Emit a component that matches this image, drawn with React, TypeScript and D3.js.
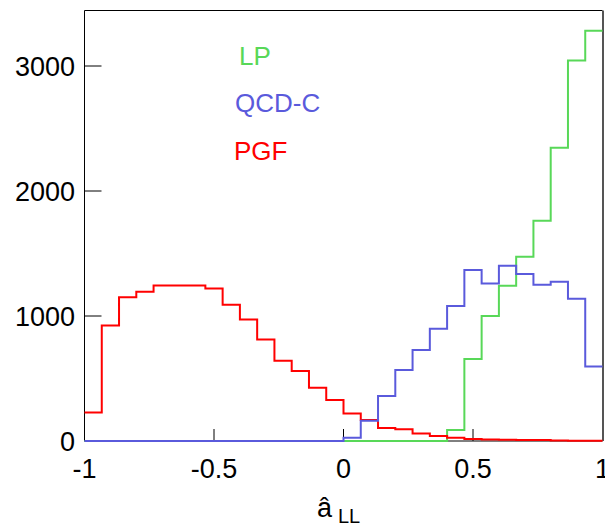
import React from "react";
import * as d3 from "d3";

const binEdges: number[] = d3.range(31).map((i) => -1 + (2 * i) / 30);

const pgfValues: number[] = [
  228, 925, 1150, 1195, 1245, 1245, 1245, 1220, 1090, 973, 813, 643, 560, 427, 328,
  221, 168, 105, 95, 61, 40, 27, 16, 13, 10, 8, 8, 5, 3, 3,
];
const qcdValues: number[] = [
  0, 0, 0, 0, 0, 0, 0, 0, 0, 0, 0, 0, 0, 0, 0,
  27, 163, 360, 568, 728, 899, 1080, 1368, 1261, 1403, 1336, 1251, 1275, 1139, 597,
];
const lpValues: number[] = [
  0, 0, 0, 0, 0, 0, 0, 0, 0, 0, 0, 0, 0, 0, 0,
  0, 0, 0, 0, 0, 0, 88, 656, 1000, 1243, 1475, 1763, 2347, 3045, 3283,
];

const xTicks: number[] = [-1, -0.5, 0, 0.5, 1];
const xTickLabels: string[] = ["-1", "-0.5", "0", "0.5", "1"];
const yTicks: number[] = [0, 1000, 2000, 3000];

const seriesNames: string[] = ["LP", "QCD-C", "PGF"];
const seriesColors: string[] = ["#58d858", "#5a5adc", "#ff0000"];

const W = 605;
const H = 527;
const left = 84.5;
const right = 602.5;
const top = 10.5;
const bottom = 441;

const FONT = "'Liberation Sans', Arial, Helvetica, sans-serif";

export default function App() {
  const x = d3.scaleLinear().domain([-1, 1]).range([left, right]);
  const y = d3.scaleLinear().domain([0, 3444]).range([bottom, top]);

  const stepPath = (vals: number[]) => {
    const pts: [number, number][] = vals.map((v, i) => [binEdges[i], v]);
    pts.push([binEdges[vals.length], vals[vals.length - 1]]);
    return (
      d3
        .line<[number, number]>()
        .x((d) => x(d[0]))
        .y((d) => y(d[1]))
        .curve(d3.curveStepAfter)(pts) || ""
    );
  };

  const drawOrder = [
    { vals: lpValues, color: seriesColors[0] },
    { vals: pgfValues, color: seriesColors[2] },
    { vals: qcdValues, color: seriesColors[1] },
  ];

  const legendPos = [
    { x: 239, y: 65 },
    { x: 235, y: 111.5 },
    { x: 234, y: 160 },
  ];

  return (
    <svg
      width={W}
      height={H}
      style={{ position: "absolute", left: 0, top: 0, background: "#fff" }}
      fontFamily={FONT}
    >
      <rect x={0} y={0} width={W} height={H} fill="#fff" />
      {/* frame */}
      <line x1={left} x2={right} y1={top} y2={top} stroke="#000" strokeWidth={1} />
      <line x1={left} x2={left} y1={top} y2={bottom} stroke="#000" strokeWidth={1} />
      <line x1={left} x2={right} y1={bottom} y2={bottom} stroke="#000" strokeWidth={1} />
      <line x1={right + 0.5} x2={right + 0.5} y1={top} y2={bottom} stroke="#555" strokeWidth={2} />

      {/* y ticks */}
      {yTicks.map((t) => (
        <g key={"y" + t}>
          <line x1={left} x2={left + 17} y1={y(t)} y2={y(t)} stroke="#000" strokeWidth={1} />
          <text x={75} y={y(t) + 9.5} fontSize={27} textAnchor="end" fill="#000">
            {t}
          </text>
        </g>
      ))}

      {/* x ticks */}
      {xTicks.map((t, i) => (
        <g key={"x" + t}>
          {t > -1 && t < 1 && (
            <line x1={x(t)} x2={x(t)} y1={bottom} y2={bottom - 12} stroke="#000" strokeWidth={1} />
          )}
          <text x={x(t)} y={478} fontSize={27} textAnchor="middle" fill="#000">
            {xTickLabels[i]}
          </text>
        </g>
      ))}

      {/* histograms */}
      {drawOrder.map((s, i) => (
        <path key={i} d={stepPath(s.vals)} fill="none" stroke={s.color} strokeWidth={2} />
      ))}

      {/* legend */}
      {seriesNames.map((n, i) => (
        <text key={n} x={legendPos[i].x} y={legendPos[i].y} fontSize={26} fill={seriesColors[i]}>
          {n}
        </text>
      ))}

      {/* x axis title */}
      <text x={317} y={517} fontSize={27} fill="#000">
        â
      </text>
      <text x={338} y={523} fontSize={20} fill="#000">
        LL
      </text>
    </svg>
  );
}
